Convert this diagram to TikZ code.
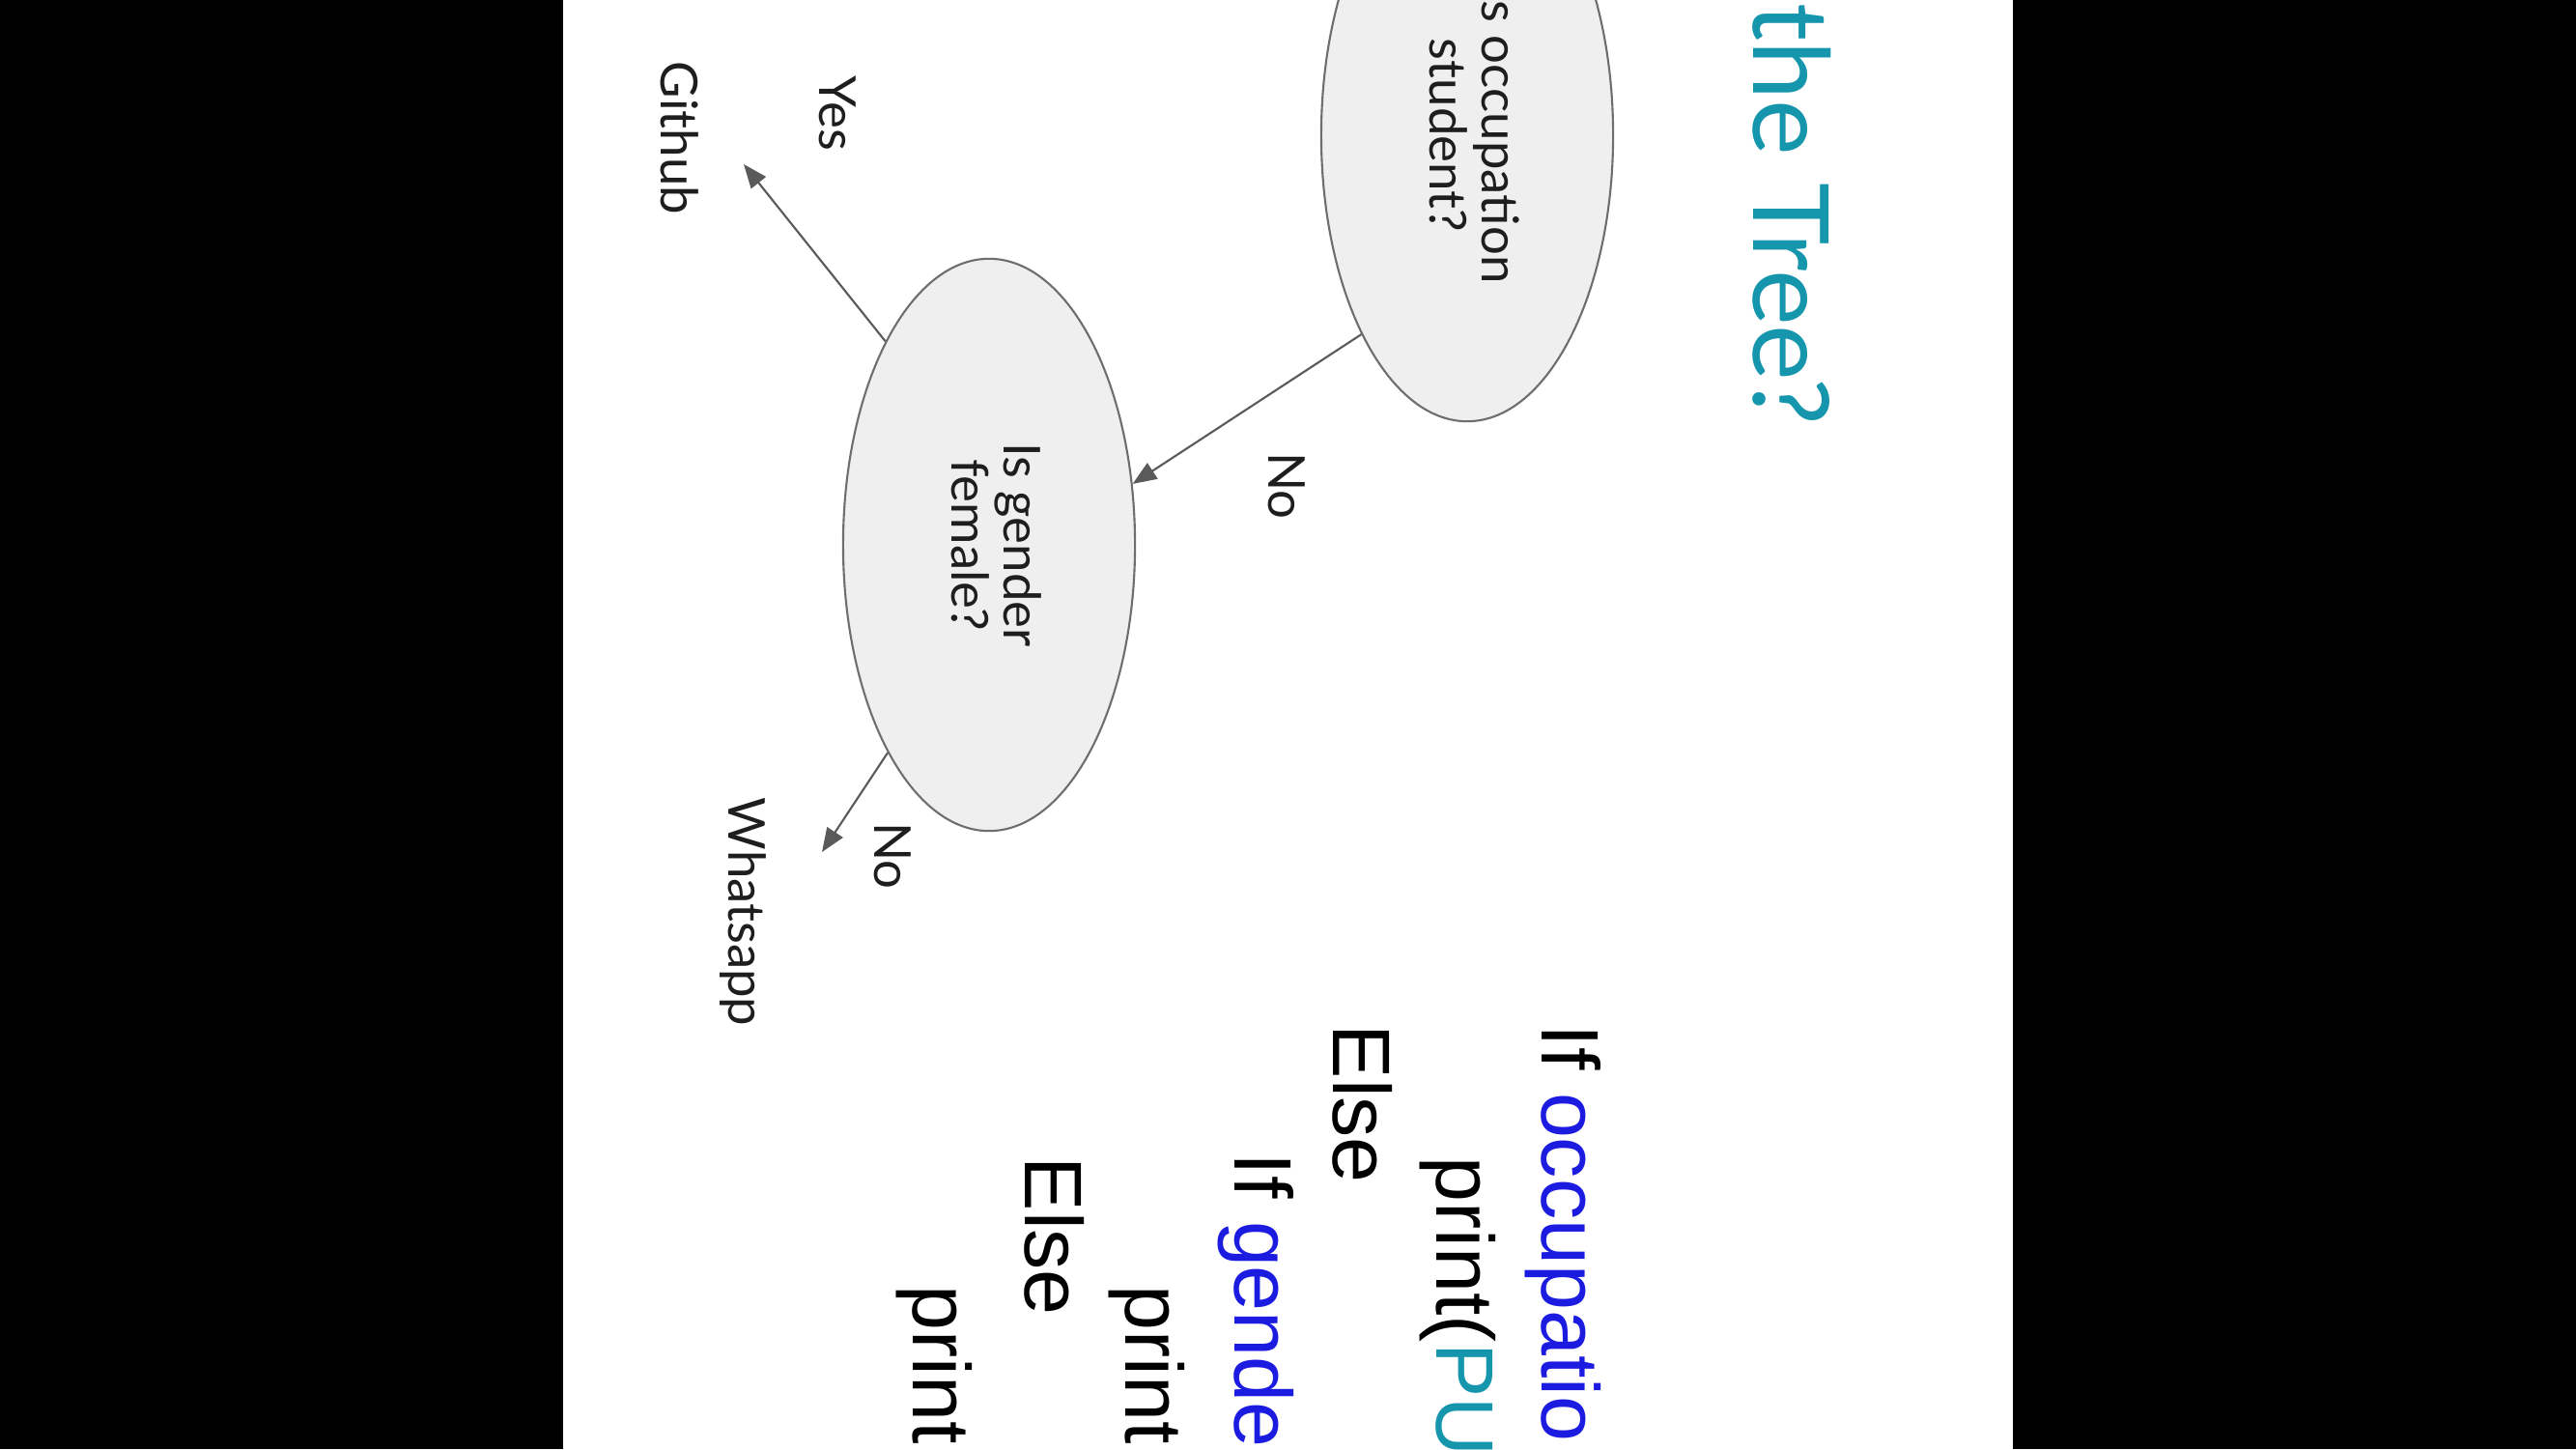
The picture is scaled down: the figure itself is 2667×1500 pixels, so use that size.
\documentclass[tikz,border=0pt]{standalone}
\usepackage{fontspec}
\setmainfont{Lato}
\newfontfamily\codefont{Liberation Sans}
\usetikzlibrary{shapes.geometric,arrows.meta}
\definecolor{tealtitle}{RGB}{22,150,172}
\definecolor{codeblue}{RGB}{28,28,225}
\definecolor{nodefill}{RGB}{239,239,239}
\definecolor{nodeline}{RGB}{110,110,110}
\definecolor{arrowgray}{RGB}{90,90,90}
\definecolor{inktext}{RGB}{30,30,30}
\tikzset{
  decision/.style={ellipse, draw=nodeline, fill=nodefill, line width=0.6pt,
    inner sep=0pt, minimum width=3.02cm, minimum height=5.92cm,
    text=inktext, font=\fontsize{15}{17}\selectfont},
  edge/.style={draw=arrowgray, line width=0.6pt,
    -{Triangle[length=7pt,width=5.5pt]}},
  lbl/.style={rotate=-90, text=inktext, inner sep=0pt,
    font=\fontsize{15}{17}\selectfont},
  codeline/.style={rotate=-90, anchor=base west, inner sep=0pt,
    font=\codefont\fontsize{24}{28}\selectfont},
  titletext/.style={rotate=-90, anchor=base west, inner sep=0pt,
    text=tealtitle, font=\fontsize{31}{36}\selectfont}
}
\begin{document}
\begin{tikzpicture}[x=0.01cm,y=-0.01cm]
\useasboundingbox (0,0) rectangle (2667,1500);
\clip (0,0) rectangle (2667,1500);
\fill[white] (0,0) rectangle (2667,1500);
\fill[black] (0,0) rectangle (583,1500);
\fill[black] (2084,0) rectangle (2667,1500);

% title
\node[titletext] (title) at (1815,3) {the Tree?};

% decision nodes
\node[decision] (occ) at (1519,140)
  {\rotatebox{-90}{\renewcommand\arraystretch{0.86}\begin{tabular}{@{}c@{}}Is occupation\\student?\end{tabular}}};
\node[decision] (gen) at (1024,564)
  {\rotatebox{-90}{\renewcommand\arraystretch{0.86}\begin{tabular}{@{}c@{}}Is gender\\female?\end{tabular}}};

% free ends
\coordinate (ghend) at (770,170);
\coordinate (waend) at (851,882);

% connectors
\draw[edge] (occ.242) -- (gen.23);
\draw[edge] (gen.117) -- (ghend);
\draw[edge] (gen.244) -- (waend);

% labels
\node[lbl] (nolbl1) at (1332,503) {No};
\node[lbl] (yeslbl) at (867,117) {Yes};
\node[lbl] (github) at (704,143) {Github};
\node[lbl] (nolbl2) at (924,886) {No};
\node[lbl] (whats) at (769,944) {Whatsapp};

% code
\node[codeline] (c1) at (1596,1060) {If {\color{codeblue}occupatio}};
\node[codeline] (c2) at (1487,1197) {print({\color{tealtitle}PU}};
\node[codeline] (c3) at (1380,1060) {Else};
\node[codeline] (c4) at (1278,1193) {If {\color{codeblue}gende}};
\node[codeline] (c5) at (1165,1330) {print};
\node[codeline] (c6) at (1061,1197) {Else};
\node[codeline] (c7) at (945,1330) {print};
\end{tikzpicture}
\end{document}
